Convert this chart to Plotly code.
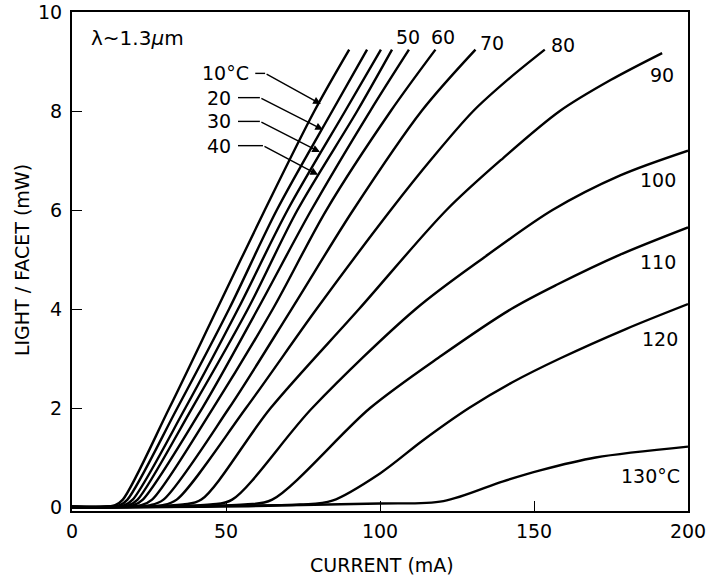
import plotly.graph_objects as go

# Temperatures (deg C) of the measured curves
temps = [10, 20, 30, 40, 50, 60, 70, 80, 90, 100, 110, 120, 130]

# Current (mA) / light per facet (mW)
i_10 = [0, 14, 16.5, 31.6, 47.1, 62.6, 78.7, 90.0]
p_10 = [0, 0.04, 0.15, 2, 4, 6, 8, 9.24]
i_20 = [0, 15.5, 18, 34.2, 51, 66.5, 84.5, 95.8]
p_20 = [0, 0.04, 0.15, 2, 4, 6, 8, 9.24]
i_30 = [0, 17, 19.7, 36.8, 53.9, 70, 88.7, 100.3]
p_30 = [0, 0.04, 0.15, 2, 4, 6, 8, 9.24]
i_40 = [0, 18.5, 21.3, 39, 57.1, 73.2, 92.6, 103.9]
p_40 = [0, 0.04, 0.15, 2, 4, 6, 8, 9.24]
i_50 = [0, 20, 23, 42.3, 60.3, 77.7, 96.8, 109.4]
p_50 = [0, 0.04, 0.15, 2, 4, 6, 8, 9.24]
i_60 = [0, 22.5, 26, 45.8, 65.2, 82.6, 103.5, 118]
p_60 = [0, 0.04, 0.15, 2, 4, 6, 8, 9.24]
i_70 = [0, 25.5, 29.7, 51, 71.3, 91.3, 113.5, 131]
p_70 = [0, 0.04, 0.15, 2, 4, 6, 8, 9.24]
i_80 = [0, 29.5, 34, 56.5, 79.4, 103.5, 117, 130.3, 142, 153.5]
p_80 = [0, 0.04, 0.15, 2, 4, 6, 7.05, 8, 8.66, 9.24]
i_90 = [0, 36, 42, 64.5, 93.2, 121.6, 140, 158.4, 175, 191.6]
p_90 = [0, 0.05, 0.15, 2, 4, 6, 7.05, 8, 8.63, 9.17]
i_100 = [0, 45, 52, 78, 111.6, 134, 156, 178, 200]
p_100 = [0, 0.05, 0.15, 2, 4, 5.05, 6, 6.7, 7.2]
i_110 = [0, 56, 65, 96.8, 120, 142.6, 157.7, 178, 200]
p_110 = [0, 0.05, 0.15, 2, 3.06, 4, 4.5, 5.1, 5.65]
i_120 = [0, 74, 84.5, 100, 114, 128.9, 143, 158.4, 180, 200]
p_120 = [0, 0.05, 0.13, 0.68, 1.35, 2, 2.52, 3.0, 3.6, 4.1]
i_130 = [0, 60, 100, 120.6, 140, 152, 170, 200]
p_130 = [0, 0.03, 0.07, 0.12, 0.52, 0.74, 1.0, 1.22]

currents = [i_10, i_20, i_30, i_40, i_50, i_60, i_70, i_80, i_90, i_100, i_110, i_120, i_130]
powers = [p_10, p_20, p_30, p_40, p_50, p_60, p_70, p_80, p_90, p_100, p_110, p_120, p_130]

x_ticks = [0, 50, 100, 150, 200]
y_ticks = [0, 2, 4, 6, 8, 10]

FONT = "DejaVu Sans"

fig = go.Figure()
for t, xs, ys in zip(temps, currents, powers):
    fig.add_trace(go.Scatter(
        x=xs, y=ys, mode='lines', name=f'{t}°C',
        line=dict(color='black', width=2.4, shape='spline', smoothing=0.9),
        showlegend=False
    ))

# Curve labels at the ends of the lines
end_labels = [
    ('50', 109.1, 9.49), ('60', 120.5, 9.49), ('70', 136.4, 9.37),
    ('80', 159.4, 9.33), ('90', 191.6, 8.73), ('100', 190.3, 6.6),
    ('110', 190.3, 4.96), ('120', 190.9, 3.39), ('130°C', 187.7, 0.63),
]
for txt, x, y in end_labels:
    fig.add_annotation(x=x, y=y, text=txt, showarrow=False,
                       font=dict(family=FONT, size=19, color='black'))

# Labels with leaders and arrows for the 10-40 C curves
# (label, label y, leader start x, knee x, head x, head y)
leaders = [
    ('10°C', 8.76, 59.5, 62.7, 80.8, 8.14),
    ('20', 8.27, 53.9, 61.0, 81.5, 7.62),
    ('30', 7.79, 53.9, 61.0, 80.5, 7.17),
    ('40', 7.30, 53.9, 62.0, 79.9, 6.71),
]
for txt, ly, x0, xk, hx, hy in leaders:
    fig.add_annotation(x=x0 - 1.5, y=ly, text=txt, showarrow=False, xanchor='right',
                       font=dict(family=FONT, size=19, color='black'))
    fig.add_shape(type='line', x0=x0, y0=ly, x1=xk, y1=ly,
                  line=dict(color='black', width=1.4))
    fig.add_annotation(x=hx, y=hy, ax=xk, ay=ly, axref='x', ayref='y',
                       text='', showarrow=True, arrowhead=2, arrowsize=1.1,
                       arrowwidth=1.4, arrowcolor='black')

fig.add_annotation(x=21.4, y=9.47, text='λ~1.3<i>μ</i>m', showarrow=False,
                   font=dict(family=FONT, size=20, color='black'))

# Axis titles placed by hand
fig.add_annotation(xref='paper', yref='paper', x=0.503, y=-0.108,
                   xanchor='center', yanchor='middle',
                   text='CURRENT (mA)', showarrow=False,
                   font=dict(family=FONT, size=19, color='black'))
fig.add_annotation(xref='paper', yref='paper', x=-0.081, y=0.503,
                   xanchor='center', yanchor='middle',
                   text='LIGHT / FACET (mW)', showarrow=False, textangle=-90,
                   font=dict(family=FONT, size=19, color='black'))

fig.update_layout(
    width=712, height=583,
    margin=dict(l=72, r=24, t=12, b=72),
    plot_bgcolor='white', paper_bgcolor='white',
    font=dict(family=FONT, size=19, color='black'),
    xaxis=dict(range=[0, 200], tickvals=x_ticks, ticks='inside', ticklen=10,
               tickwidth=1.4, tickcolor='black', showgrid=False, zeroline=False,
               showline=True, linecolor='black', linewidth=2, mirror=True,
               ticklabelstandoff=2, automargin=False),
    yaxis=dict(range=[-0.08, 10], tickvals=y_ticks, ticks='inside', ticklen=10,
               tickwidth=1.4, tickcolor='black', showgrid=False, zeroline=False,
               showline=True, linecolor='black', linewidth=2, mirror=True,
               ticklabelstandoff=4, automargin=False),
)

# Drop the default page margin so the figure sits at the window's corner
fig.write_html("out.html", config={'displayModeBar': False},
               post_script="document.body.style.margin='0';")
